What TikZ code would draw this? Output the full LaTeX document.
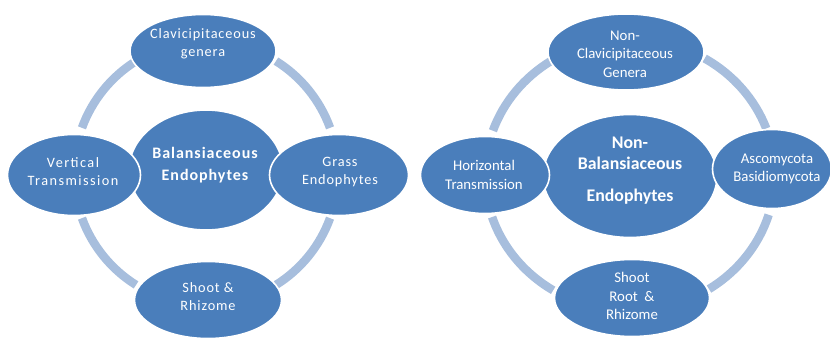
\documentclass[tikz,border=0pt]{standalone}
\usepackage{fontspec}
\setmainfont{Carlito}
\newfontfamily\widefont[LetterSpace=6]{Carlito}
\usetikzlibrary{shapes.geometric}
\definecolor{blobblue}{HTML}{4A7EBB}
\definecolor{ringblue}{HTML}{A7BEDD}
\tikzset{
  blob/.style={ellipse, fill=blobblue, draw=white, line width=1.6pt, inner sep=0pt},
  ring/.style={draw=ringblue, line width=8.5pt},
  txtL/.style={text=white, align=center, inner sep=0pt, font=\widefont\fontsize{14.3}{18}\selectfont},
  txtLc/.style={text=white, align=center, inner sep=0pt, font=\widefont\bfseries\fontsize{16}{22}\selectfont},
  txtR/.style={text=white, align=center, inner sep=0pt, font=\fontsize{14.8}{18.5}\selectfont},
  txtRc/.style={text=white, align=center, inner sep=0pt, font=\bfseries\fontsize{17.8}{21}\selectfont},
}
\begin{document}
\begin{tikzpicture}[x=1pt,y=-1pt]
\useasboundingbox (0,0) rectangle (830,340);
% ---------- left cycle ----------
\coordinate (lc) at (206,173);
\draw[ring] (lc) ++(20:132) arc[start angle=20, end angle=58, radius=132];
\draw[ring] (lc) ++(122:132) arc[start angle=122, end angle=160, radius=132];
\draw[ring] (lc) ++(200:132) arc[start angle=200, end angle=238, radius=132];
\draw[ring] (lc) ++(302:132) arc[start angle=302, end angle=340, radius=132];
\node[blob, minimum width=154pt, minimum height=120pt] (Lmid) at (206,170) {};
\node[blob, minimum width=146pt, minimum height=73pt] (Ltop) at (203,51) {};
\node[blob, minimum width=133pt, minimum height=81pt] (Lleft) at (74,175) {};
\node[blob, minimum width=139pt, minimum height=81pt] (Lright) at (339,175) {};
\node[blob, minimum width=147pt, minimum height=77pt] (Lbot) at (208,300) {};
\node[txtLc] (LmidT) at (205,165) {Balansiaceous\\Endophytes};
\node[txtL] (LtopT) at (203,44) {Clavicipitaceous\\genera};
\node[txtL, font=\widefont\addfontfeature{LetterSpace=10}\fontsize{14.3}{18}\selectfont] (LleftT) at (73,172) {Vertical\\Transmission};
\node[txtL] (LrightT) at (340,172) {Grass\\Endophytes};
\node[txtL] (LbotT) at (208,297) {Shoot \&\\Rhizome};
% ---------- right cycle ----------
\coordinate (rc) at (630,175);
\draw[ring] (rc) ++(17:145 and 136) arc[start angle=17, end angle=57, x radius=145, y radius=136];
\draw[ring] (rc) ++(122:145 and 136) arc[start angle=122, end angle=162, x radius=145, y radius=136];
\draw[ring] (rc) ++(199:145 and 136) arc[start angle=199, end angle=237, x radius=145, y radius=136];
\draw[ring] (rc) ++(301:145 and 136) arc[start angle=301, end angle=340, x radius=145, y radius=136];
\node[blob, minimum width=174pt, minimum height=123pt] (Rmid) at (630,176) {};
\node[blob, minimum width=156pt, minimum height=76pt] (Rtop) at (626,52) {};
\node[blob, minimum width=129pt, minimum height=77pt] (Rleft) at (485,175) {};
\node[blob, minimum width=119pt, minimum height=79pt] (Rright) at (772,169) {};
\node[blob, minimum width=155pt, minimum height=77pt] (Rbot) at (632,298) {};
\node[txtRc] (RmidT) at (630,171) {Non-\\Balansiaceous\\[11pt]Endophytes};
\node[txtR] (RtopT) at (625,54) {Non-\\Clavicipitaceous\\Genera};
\node[txtR] (RleftT) at (484,175) {Horizontal\\Transmission};
\node[txtR] (RrightT) at (777,169) {Ascomycota\\Basidiomycota};
\node[txtR] (RbotT) at (632,296) {Shoot\\Root \ \&\\Rhizome};
\end{tikzpicture}
\end{document}
